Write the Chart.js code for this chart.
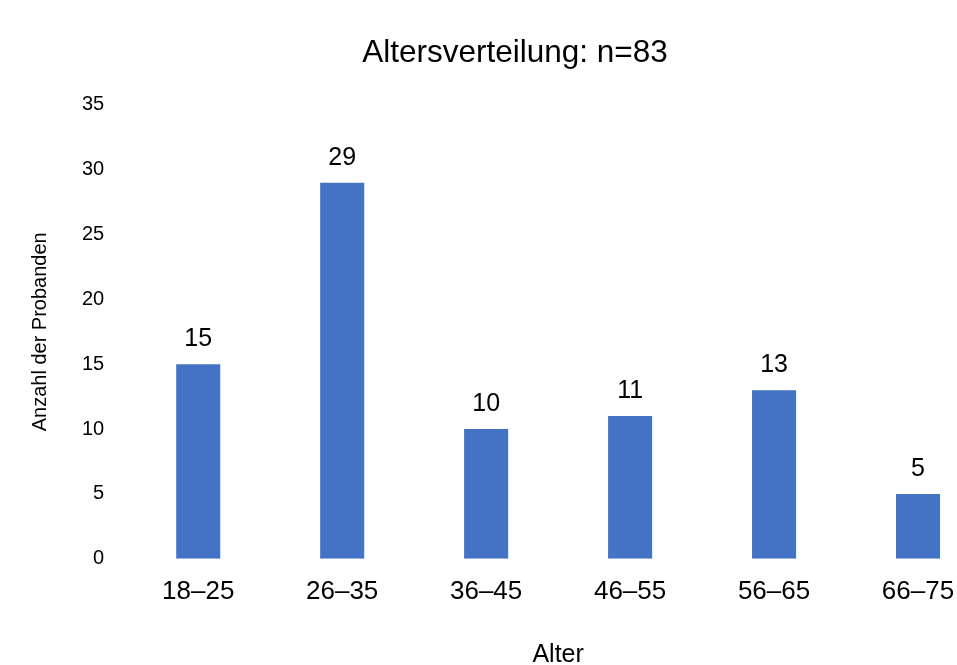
<!DOCTYPE html>
<html><head><meta charset="utf-8">
<script src="https://cdn.jsdelivr.net/npm/chart.js@4/dist/chart.umd.min.js"></script>
<style>html,body{margin:0;padding:0;overflow:hidden;background:#fff}#wrap{width:1030px;height:670px}</style>
</head><body><div id="wrap"><canvas id="c" width="1030" height="670"></canvas></div>
<script>
const categories = ["18–25","26–35","36–45","46–55","56–65","66–75"];
const counts = [15,29,10,11,13,5];
const yTicks = [0,5,10,15,20,25,30,35];
const chartTitle = "Altersverteilung: n=83";
const xTitle = "Alter";
const yTitle = "Anzahl der Probanden";
const FONT = '"Liberation Sans", Arial, sans-serif';

const labelPlugin = {
  id:'barLabels',
  afterDatasetsDraw(chart){
    const ctx = chart.ctx;
    const meta = chart.getDatasetMeta(0);
    ctx.save();
    ctx.font = '25px ' + FONT;
    ctx.fillStyle = '#000';
    ctx.textAlign = 'center';
    ctx.textBaseline = 'alphabetic';
    meta.data.forEach((bar,i)=>{
      ctx.fillText(String(counts[i]), bar.x, bar.y - 18);
    });
    ctx.restore();
  }
};

new Chart(document.getElementById('c'), {
  type:'bar',
  data:{labels:categories, datasets:[{data:counts, backgroundColor:'#4472C4', barPercentage:0.306, categoryPercentage:1}]},
  options:{
    responsive:false, animation:false,
    layout:{padding:{left:40,right:40,top:0,bottom:0}},
    plugins:{
      legend:{display:false}, tooltip:{enabled:false},
      title:{display:true, text:chartTitle, color:'#000', font:{size:31.5, family:FONT, weight:'normal'}, padding:{top:34,bottom:33}}
    },
    scales:{
      x:{
        grid:{display:false}, border:{display:false},
        ticks:{color:'#000', font:{size:26, family:FONT}, padding:9},
        title:{display:true, text:xTitle, color:'#000', font:{size:25, family:FONT}, padding:{top:24,bottom:0}}
      },
      y:{
        min:0, max:35,
        afterBuildTicks(axis){ axis.ticks = yTicks.map(v=>({value:v})); },
        grid:{display:false}, border:{display:false},
        ticks:{color:'#000', font:{size:20, family:FONT}, padding:14},
        title:{display:true, text:yTitle, color:'#000', font:{size:20, family:FONT}, padding:{top:-12,bottom:16}}
      }
    }
  },
  plugins:[labelPlugin]
});
</script></body></html>
